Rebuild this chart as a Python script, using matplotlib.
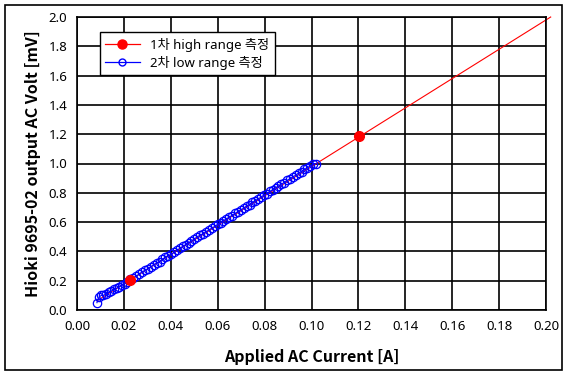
import matplotlib.pyplot as plt
from matplotlib.lines import Line2D
from matplotlib.patches import Rectangle

plt.rcParams['font.family'] = ['Noto Sans', 'Noto Sans CJK KR', 'DejaVu Sans']

# 1st measurement, high range
high_x = [0.0226, 0.1204]
high_y = [0.205, 1.188]

# trend line through high range points
trend_x = [0.0085, 0.2020]
trend_y = [0.063, 2.000]

# 2nd measurement, low range
low_x = [0.0085, 0.0095, 0.0104, 0.0113, 0.0124, 0.0135, 0.0146, 0.0158, 0.0170, 0.0181,
         0.0192, 0.0204, 0.0215, 0.0228, 0.0240, 0.0252, 0.0265, 0.0277, 0.0290, 0.0302,
         0.0315, 0.0327, 0.0340, 0.0352, 0.0364, 0.0377, 0.0389, 0.0401, 0.0414, 0.0426,
         0.0439, 0.0451, 0.0463, 0.0476, 0.0488, 0.0500, 0.0513, 0.0525, 0.0538, 0.0550,
         0.0562, 0.0575, 0.0587, 0.0600, 0.0612, 0.0624, 0.0637, 0.0649, 0.0661, 0.0674,
         0.0686, 0.0699, 0.0711, 0.0723, 0.0736, 0.0748, 0.0760, 0.0773, 0.0785, 0.0797,
         0.0810, 0.0822, 0.0834, 0.0847, 0.0859, 0.0871, 0.0884, 0.0896, 0.0908, 0.0921,
         0.0933, 0.0945, 0.0958, 0.0970, 0.0982, 0.0995, 0.1007, 0.1019]
low_y = [0.05, 0.09, 0.10, 0.10, 0.11, 0.12, 0.13, 0.14, 0.15, 0.16,
         0.17, 0.18, 0.19, 0.21, 0.22, 0.23, 0.245, 0.26, 0.27, 0.28,
         0.295, 0.31, 0.32, 0.33, 0.345, 0.36, 0.37, 0.38, 0.395, 0.41,
         0.42, 0.435, 0.445, 0.46, 0.47, 0.485, 0.50, 0.51, 0.52, 0.535,
         0.545, 0.56, 0.57, 0.585, 0.595, 0.61, 0.62, 0.635, 0.645, 0.66,
         0.67, 0.685, 0.695, 0.71, 0.72, 0.735, 0.745, 0.76, 0.77, 0.785,
         0.795, 0.81, 0.82, 0.835, 0.845, 0.86, 0.87, 0.885, 0.895, 0.91,
         0.92, 0.935, 0.945, 0.96, 0.97, 0.985, 0.995, 1.00]

x_ticks = [0.00, 0.02, 0.04, 0.06, 0.08, 0.10, 0.12, 0.14, 0.16, 0.18, 0.20]
y_ticks = [0.0, 0.2, 0.4, 0.6, 0.8, 1.0, 1.2, 1.4, 1.6, 1.8, 2.0]

fig = plt.figure(figsize=(5.69, 3.81), dpi=100)
ax = fig.add_axes([77 / 569, 71 / 381, 469 / 569, 293 / 381])

# outer chart border
fig.patches.append(Rectangle((5 / 569, 11 / 381), 557 / 569, 365 / 381,
                             transform=fig.transFigure, fill=False,
                             edgecolor='black', linewidth=1.2))

ax.plot(trend_x, trend_y, color='red', linewidth=0.8, clip_on=False, zorder=2)
ax.plot(low_x, low_y, color='blue', linewidth=0.8, marker='o', markersize=6,
        markerfacecolor='none', markeredgecolor='blue', markeredgewidth=0.9, zorder=3)
ax.plot(high_x, high_y, linestyle='none', marker='o', markersize=7,
        color='red', zorder=4)

ax.set_xlim(0, 0.2)
ax.set_ylim(0, 2.0)
ax.set_xticks(x_ticks)
ax.set_yticks(y_ticks)
ax.set_xticklabels([f'{v:.2f}' for v in x_ticks])
ax.set_yticklabels([f'{v:.1f}' for v in y_ticks])
ax.tick_params(length=0, labelsize=9.5, pad=7)
ax.grid(True, color='black', linewidth=1.2)
ax.set_axisbelow(True)
for s in ax.spines.values():
    s.set_linewidth(1.2)

label_font = ['Noto Sans CJK KR', 'DejaVu Sans']
ax.set_xlabel('Applied AC Current [A]', fontsize=11.5, fontweight='bold',
              family=label_font, labelpad=12)
ax.set_ylabel('Hioki 9695-02 output AC Volt [mV]', fontsize=11.5, fontweight='bold',
              family=label_font, labelpad=5)

handles = [
    Line2D([], [], color='red', linewidth=0.9, marker='o', markersize=6.5),
    Line2D([], [], color='blue', linewidth=0.9, marker='o', markersize=5,
           markerfacecolor='none', markeredgecolor='blue'),
]
leg = ax.legend(handles, ['1차 high range 측정', '2차 low range 측정'],
                loc='upper left', bbox_to_anchor=(0.035, 0.97), fontsize=9.5,
                fancybox=False, framealpha=1, edgecolor='black',
                handlelength=2.6, borderpad=0.4, labelspacing=0.3)
leg.get_frame().set_linewidth(1.0)

fig.savefig('out.png', dpi=100)
